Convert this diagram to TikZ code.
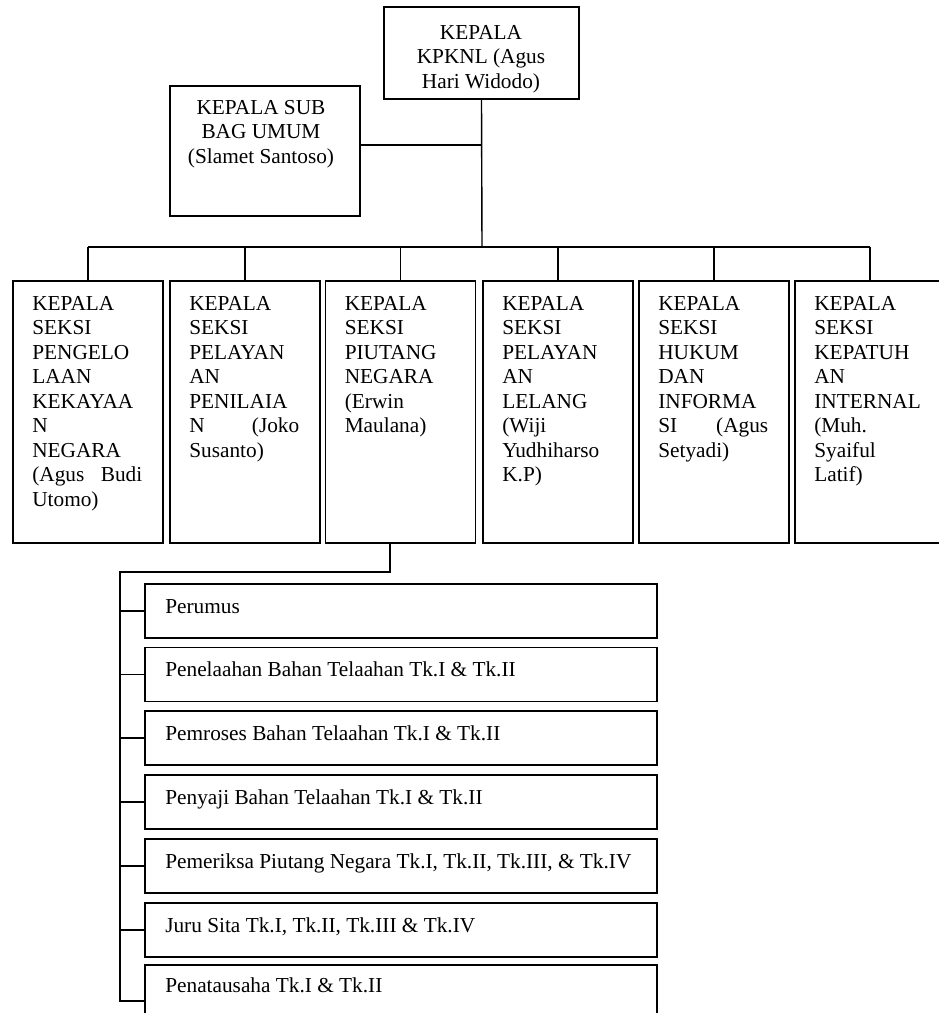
\documentclass[tikz,border=0pt]{standalone}
\usepackage{fontspec}
\setmainfont{Liberation Serif}
\begin{document}
\begin{tikzpicture}[x=1pt,y=-1pt,
  box/.style={draw, line width=1.8pt, rectangle, inner sep=0pt},
  seksi/.style={box, minimum width=150pt, minimum height=262pt},
  itembox/.style={box, minimum width=512pt, minimum height=54pt},
  txt/.style={inner sep=0pt, font=\fontsize{21.3}{24.5}\selectfont},
  stxt/.style={txt, text width=110pt, align=left, anchor=north west},
  itxt/.style={txt, anchor=base west},
  link/.style={line width=1.4pt}]
\clip (0,0) rectangle (939,1013);
\fill[white] (0,0) rectangle (939,1013);
% top
\node[box, minimum width=195pt, minimum height=92pt] (top) at (481.5,53) {};
\node[txt, align=center, anchor=north] (toptxt) at (481,25) {KEPALA\\KPKNL (Agus\\Hari Widodo)};
\node[box, minimum width=190pt, minimum height=130pt] (sub) at (265,151) {};
\node[txt, align=center, anchor=north] (subtxt) at (261,100) {KEPALA SUB\\BAG UMUM\\(Slamet Santoso)};
% seksi boxes
\node[seksi] (s1) at (88,412) {};
\node[seksi] (s2) at (245,412) {};
\node[seksi] (s3) at (400.5,412) {};
\node[seksi] (s4) at (558,412) {};
\node[seksi] (s5) at (714,412) {};
\node[seksi] (s6) at (870,412) {};
\node[stxt] (st1) at ([shift={(20,16)}]s1.north west) {KEPALA\\SEKSI\\PENGELO\\LAAN\\KEKAYAA\\N\\NEGARA\\(Agus\hfill Budi\\Utomo)};
\node[stxt] (st2) at ([shift={(20,16)}]s2.north west) {KEPALA\\SEKSI\\PELAYAN\\AN\\PENILAIA\\N\hfill(Joko\\Susanto)};
\node[stxt] (st3) at ([shift={(20,16)}]s3.north west) {KEPALA\\SEKSI\\PIUTANG\\NEGARA\\(Erwin\\Maulana)};
\node[stxt] (st4) at ([shift={(20,16)}]s4.north west) {KEPALA\\SEKSI\\PELAYAN\\AN\\LELANG\\(Wiji\\Yudhiharso\\K.P)};
\node[stxt] (st5) at ([shift={(20,16)}]s5.north west) {KEPALA\\SEKSI\\HUKUM\\DAN\\INFORMA\\SI\hfill(Agus\\Setyadi)};
\node[stxt] (st6) at ([shift={(20,16)}]s6.north west) {KEPALA\\SEKSI\\KEPATUH\\AN\\INTERNAL\\(Muh.\\Syaiful\\Latif)};
% upper connectors
\coordinate (bus) at (482,247);
\draw[link] (s1.north |- bus) -- (s6.north |- bus);
\foreach \i in {1,...,6} \draw[link] (s\i.north) -- (s\i.north |- bus);
\draw[link] (top.south) -- (bus);
\coordinate (sj) at (482,145);
\draw[link] (sj -| sub.east) -- (sj);
% list boxes
\node[itembox] (l1) at (401,611) {};
\node[itembox] (l2) at (401,674.5) {};
\node[itembox] (l3) at (401,738) {};
\node[itembox] (l4) at (401,802) {};
\node[itembox] (l5) at (401,866) {};
\node[itembox] (l6) at (401,930) {};
\node[itembox, minimum height=72pt] (l7) at (401,1001) {};
\node[itxt] (t1) at ([shift={(21,30)}]l1.north west) {Perumus};
\node[itxt] (t2) at ([shift={(21,30)}]l2.north west) {Penelaahan Bahan Telaahan Tk.I \& Tk.II};
\node[itxt] (t3) at ([shift={(21,30)}]l3.north west) {Pemroses Bahan Telaahan Tk.I \& Tk.II};
\node[itxt] (t4) at ([shift={(21,30)}]l4.north west) {Penyaji Bahan Telaahan Tk.I \& Tk.II};
\node[itxt] (t5) at ([shift={(21,30)}]l5.north west) {Pemeriksa Piutang Negara Tk.I, Tk.II, Tk.III, \& Tk.IV};
\node[itxt] (t6) at ([shift={(21,30)}]l6.north west) {Juru Sita Tk.I, Tk.II, Tk.III \& Tk.IV};
\node[itxt] (t7) at ([shift={(21,28)}]l7.north west) {Penatausaha Tk.I \& Tk.II};
% lower connectors
\coordinate (drop) at (390,572);
\coordinate (sp) at (120,572);
\draw[link] (drop |- s3.south) -- (drop) -- (sp) -- (sp |- l7.west) -- (l7.west);
\foreach \i in {1,...,6} \draw[link] (sp |- l\i.west) -- (l\i.west);
\end{tikzpicture}
\end{document}
